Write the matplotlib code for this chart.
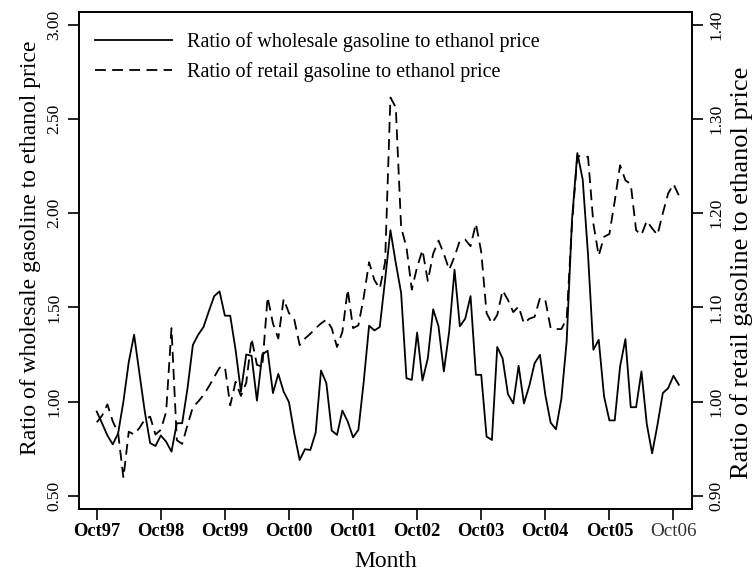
import matplotlib

matplotlib.use("Agg")
import matplotlib.pyplot as plt
import numpy as np

# Monthly ratios, Oct 1997 - Nov 2006
wholesale = [
    0.947, 0.885, 0.82, 0.773, 0.83, 1.0, 1.21, 1.355, 1.15, 0.947, 0.78, 0.764,
    0.82, 0.787, 0.734, 0.885, 0.885, 1.07, 1.30, 1.355, 1.396, 1.48, 1.56, 1.585,
    1.456, 1.456, 1.275, 1.053, 1.25, 1.243, 1.005, 1.25, 1.27, 1.045, 1.147, 1.053,
    0.997, 0.83, 0.69, 0.747, 0.743, 0.835, 1.165, 1.098, 0.846, 0.823, 0.952, 0.894,
    0.81, 0.85, 1.106, 1.403, 1.378, 1.396, 1.647, 1.91, 1.736, 1.577, 1.124, 1.115,
    1.367, 1.112, 1.23, 1.49, 1.40, 1.16, 1.372, 1.70, 1.40, 1.44, 1.56, 1.142,
    1.142, 0.814, 0.796, 1.29, 1.23, 1.04, 0.99, 1.19, 0.99, 1.083, 1.204, 1.248,
    1.036, 0.888, 0.853, 1.013, 1.32, 1.966, 2.32, 2.18, 1.78, 1.275, 1.328, 1.027,
    0.90, 0.90, 1.186, 1.332, 0.97, 0.97, 1.16, 0.881, 0.725, 0.876, 1.045, 1.071,
    1.137, 1.089,
]
retail = [
    0.978, 0.985, 0.997, 0.979, 0.967, 0.919, 0.968, 0.965, 0.972, 0.981, 0.984, 0.965,
    0.970, 0.989, 1.078, 0.959, 0.955, 0.975, 0.994, 1.0, 1.007, 1.016, 1.026, 1.036,
    1.037, 0.996, 1.021, 1.006, 1.020, 1.067, 1.039, 1.037, 1.111, 1.083, 1.067, 1.109,
    1.094, 1.087, 1.060, 1.067, 1.072, 1.078, 1.083, 1.087, 1.078, 1.058, 1.074, 1.119,
    1.078, 1.081, 1.111, 1.148, 1.129, 1.120, 1.148, 1.323, 1.3125, 1.185, 1.164, 1.119,
    1.143, 1.161, 1.128, 1.157, 1.171, 1.157, 1.140, 1.154, 1.171, 1.172, 1.165, 1.189,
    1.159, 1.094, 1.083, 1.092, 1.118, 1.108, 1.095, 1.101, 1.083, 1.088, 1.090, 1.110,
    1.108, 1.078, 1.077, 1.077, 1.088, 1.189, 1.261, 1.260, 1.260, 1.189, 1.155, 1.175,
    1.178, 1.213, 1.251, 1.235, 1.231, 1.182, 1.177, 1.192, 1.184, 1.177, 1.20, 1.221,
    1.231, 1.219,
]
tick_labels = ["Oct97", "Oct98", "Oct99", "Oct00", "Oct01",
               "Oct02", "Oct03", "Oct04", "Oct05", "Oct06"]
left_ticks = [0.5, 1.0, 1.5, 2.0, 2.5, 3.0]
right_ticks = [0.9, 1.0, 1.1, 1.2, 1.3, 1.4]

plt.rcParams["font.family"] = ["Liberation Serif", "DejaVu Serif"]

months = np.arange(len(wholesale))

fig = plt.figure(figsize=(7.54, 5.71), dpi=100)
ax = fig.add_axes([0.1044, 0.108, 0.8136, 0.8705])
ax2 = ax.twinx()

l1, = ax.plot(months, wholesale, color="black", lw=1.3,
              label="Ratio of wholesale gasoline to ethanol price")
l2, = ax2.plot(months, retail, color="black", lw=1.3, linestyle=(0, (6, 3.5)),
               label="Ratio of retail gasoline to ethanol price")

ax.set_xlim(-3.37, 111.5)
ax.set_ylim(0.4277, 3.0675)
# right axis is tied to the left one: 0.5 <-> 0.9, 3.0 <-> 1.4
ax2.set_ylim(0.9 + (0.4277 - 0.5) * 0.2, 0.9 + (3.0675 - 0.5) * 0.2)

ax.set_xticks(months[::12])
ax.set_xticklabels(tick_labels, fontsize=13.3)
for i, t in enumerate(ax.get_xticklabels()):
    if i < len(tick_labels) - 1:
        t.set_fontweight("bold")
    else:
        t.set_color("#333333")
        t.set_fontsize(13.8)

ax.set_yticks(left_ticks)
ax.set_yticklabels([f"{v:.2f}" for v in left_ticks], fontsize=12.5,
                   rotation=90, va="center")
ax2.set_yticks(right_ticks)
ax2.set_yticklabels([f"{v:.2f}" for v in right_ticks], fontsize=12.5,
                    rotation=90, va="center")

for a in (ax, ax2):
    a.tick_params(direction="out", length=8, width=1.2, pad=4)
    for s in a.spines.values():
        s.set_linewidth(1.2)
ax.tick_params(axis="x", pad=2)

ax.set_xlabel("Month", fontsize=17, labelpad=8)
ax.set_ylabel("Ratio of wholesale gasoline to ethanol price", fontsize=17)
ax2.set_ylabel("Ratio of retail gasoline to ethanol price", fontsize=19, rotation=90)
ax.yaxis.set_label_coords(-0.061, 0.526)
ax2.yaxis.set_label_coords(1.061, 0.475)

ax.legend(handles=[l1, l2], loc="upper left", bbox_to_anchor=(0.0266, 0.96),
          frameon=False, fontsize=14.5, handlelength=3.8, handletextpad=0.75,
          labelspacing=0.52, borderpad=0, borderaxespad=0)

fig.savefig("out.png", dpi=100)
